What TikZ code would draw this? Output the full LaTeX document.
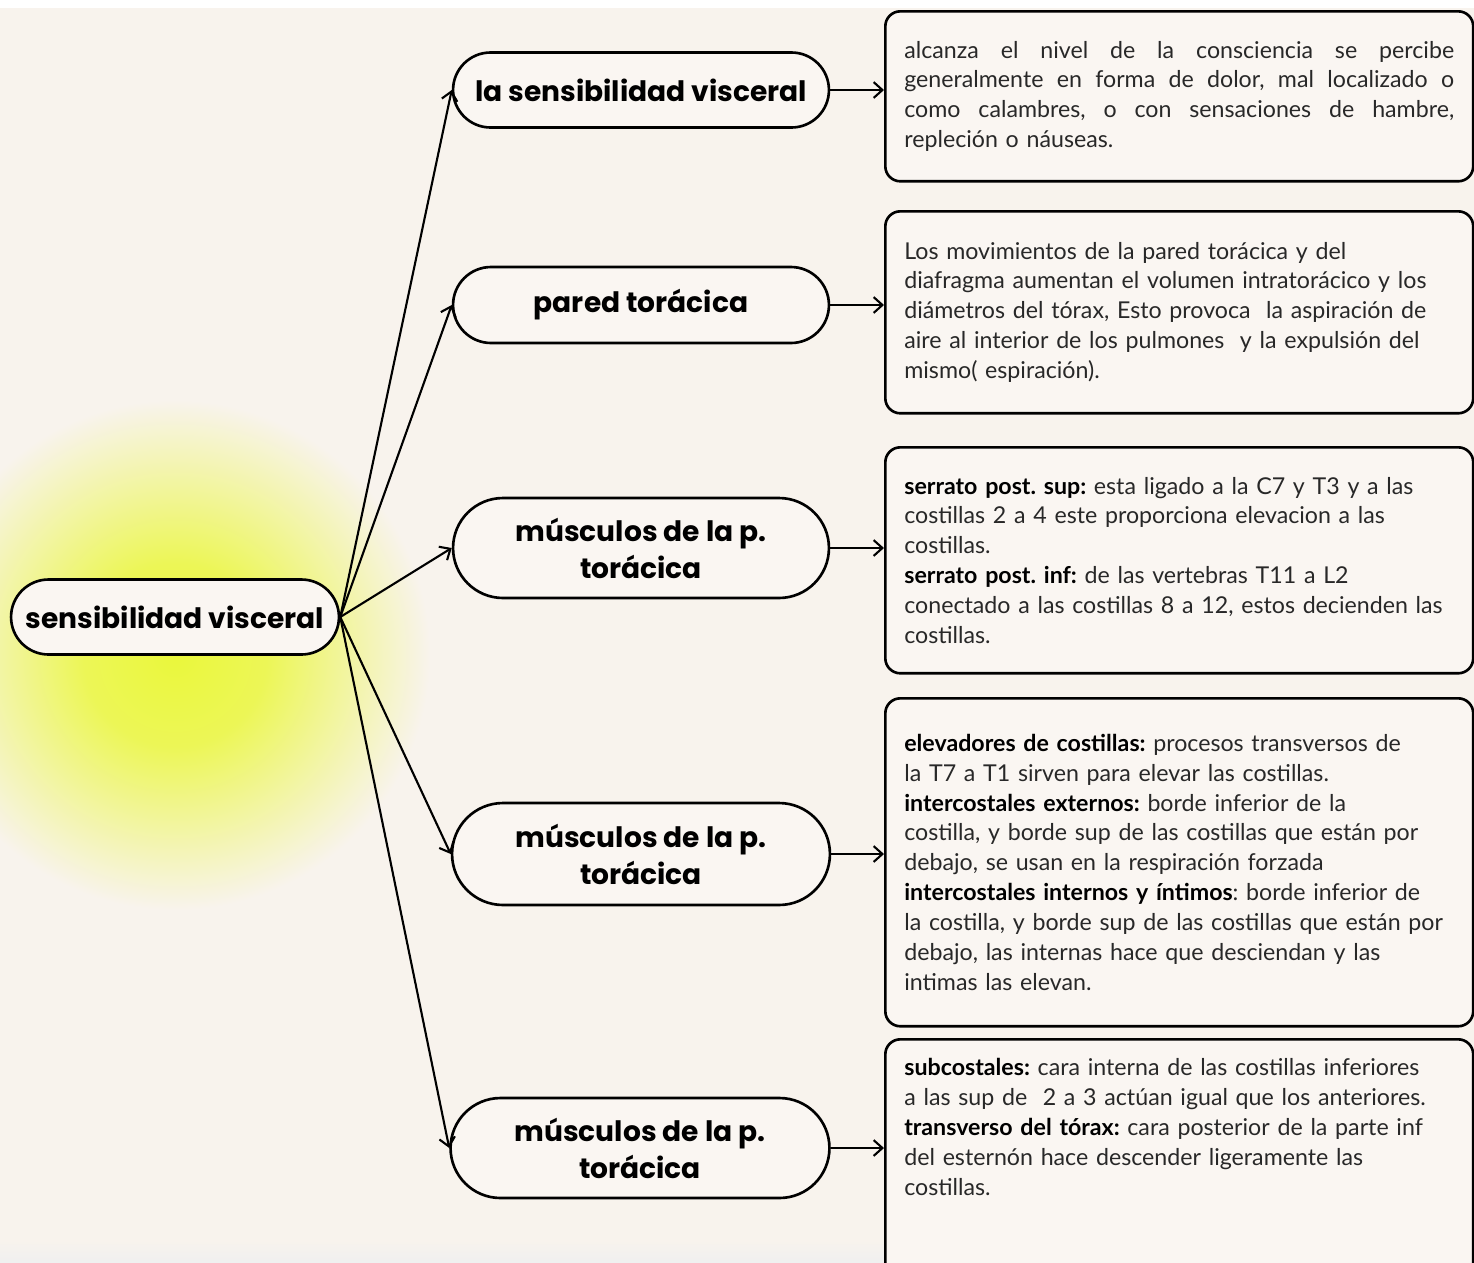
\documentclass[tikz,border=0pt]{standalone}
\usepackage{fontspec}
\setmainfont{Lato}
\newfontfamily\headfont{Poppins}
\usetikzlibrary{positioning,shapes.misc,arrows.meta}
\definecolor{PageBg}{RGB}{248,243,237}
\definecolor{NodeBg}{RGB}{250,246,242}
\definecolor{GlowYellow}{RGB}{234,247,60}
\definecolor{TextGray}{RGB}{40,40,40}
\pgfdeclareradialshading{yellowglow}{\pgfpoint{0bp}{0bp}}{color(0bp)=(GlowYellow); color(9bp)=(GlowYellow!85!PageBg); color(25bp)=(PageBg); color(50bp)=(PageBg)}
\newcommand{\justline}[1]{\makebox[11cm][s]{\spaceskip=.3em plus 1fil #1}}
\newcommand{\hb}[1]{{\bfseries\color{black}#1}}
\tikzset{>={Straight Barb[length=5pt,width=9pt]}}
\tikzset{mainnode/.style={rounded rectangle,draw=black,line width=1.5pt,fill=NodeBg,align=center,inner sep=2pt,font=\headfont\fontsize{16}{21}\selectfont\bfseries}}
\tikzset{infobox/.style={draw=black,line width=1.5pt,rounded corners=0.3cm,fill=NodeBg,anchor=north west,minimum width=11.76cm,inner xsep=0.38cm,text width=11cm,align=left,text=TextGray,font=\fontsize{13.2}{17}\selectfont\frenchspacing}}
\tikzset{myarrows/.style={->,line width=1.2pt}}
\begin{document}
\begin{tikzpicture}[x=0.02cm,y=-0.02cm]
        \useasboundingbox (0,0) rectangle (1474,1262);
        \fill[white] (0,0) rectangle (1474,8);
        \fill[PageBg] (0,8) rectangle (1474,1262);
        \shade[top color=PageBg, bottom color=gray!12] (0,1240) rectangle (1474,1262);
        \shade[shading=yellowglow] (175,655) circle (255);
        \node[mainnode,minimum width=6.7cm,minimum height=1.5cm](root) at (175,617) {sensibilidad visceral};
        \node[mainnode,minimum width=7.66cm,minimum height=1.5cm](n1) at (641,90) {la sensibilidad visceral};
        \node[mainnode,minimum width=7.66cm,minimum height=1.52cm](n2) at (641,305) {pared torácica};
        \node[mainnode,minimum width=7.66cm,minimum height=2cm](n3) at (641,548) {músculos de la p.\\torácica};
        \node[mainnode,minimum width=7.7cm,minimum height=2.04cm](n4) at (641,854) {músculos de la p.\\torácica};
        \node[mainnode,minimum width=7.72cm,minimum height=2cm](n5) at (640,1148) {músculos de la p.\\torácica};
        \node[infobox,minimum height=3.4cm](b1) at (884,10) {\justline{alcanza el nivel de la consciencia se percibe}\\
            \justline{generalmente en forma de dolor, mal localizado o}\\
            \justline{como calambres, o con sensaciones de hambre,}\\
            repleción o náuseas.};
        \node[infobox,minimum height=4.04cm](b2) at (884,210) {Los movimientos de la pared torácica y del\\
            diafragma aumentan el volumen intratorácico y los\\
            diámetros del tórax, Esto provoca\ \ la aspiración de\\
            aire al interior de los pulmones\ \ y la expulsión del\\
            mismo( espiración).};
        \node[infobox,minimum height=4.52cm](b3) at (884,446) {\hb{serrato post. sup:} esta ligado a la C7 y T3 y a las\\
            costillas 2 a 4 este proporciona elevacion a las\\
            costillas.\\
            \hb{serrato post. inf:} de las vertebras T11 a L2\\
            conectado a las costillas 8 a 12, estos decienden las\\
            costillas.};
        \node[infobox,minimum height=6.56cm](b4) at (884,697) {\hb{elevadores de costillas:} procesos transversos de\\
            la T7 a T1 sirven para elevar las costillas.\\
            \hb{intercostales externos:} borde inferior de la\\
            costilla, y borde sup de las costillas que están por\\
            debajo, se usan en la respiración forzada\\
            \hb{intercostales internos y íntimos}: borde inferior de\\
            la costilla, y borde sup de las costillas que están por\\
            debajo, las internas hace que desciendan y las\\
            intimas las elevan.};
        \node[infobox,minimum height=4.8cm](b5) at (884,1038) {\hb{subcostales:} cara interna de las costillas inferiores\\
            a las sup de\ \ 2 a 3 actúan igual que los anteriores.\\
            \hb{transverso del tórax:} cara posterior de la parte inf\\
            del esternón hace descender ligeramente las\\
            costillas.\par\vspace*{1.3cm}};
        \foreach \n in {n1,n2,n3,n4,n5}
            \draw[myarrows] (root.east) -- (\n.west);
        \foreach \n/\b in {n1/b1,n2/b2,n3/b3,n4/b4,n5/b5}
            \draw[myarrows] (\n.east) -- (\n.east -| \b.west);
    \end{tikzpicture}
\end{document}
